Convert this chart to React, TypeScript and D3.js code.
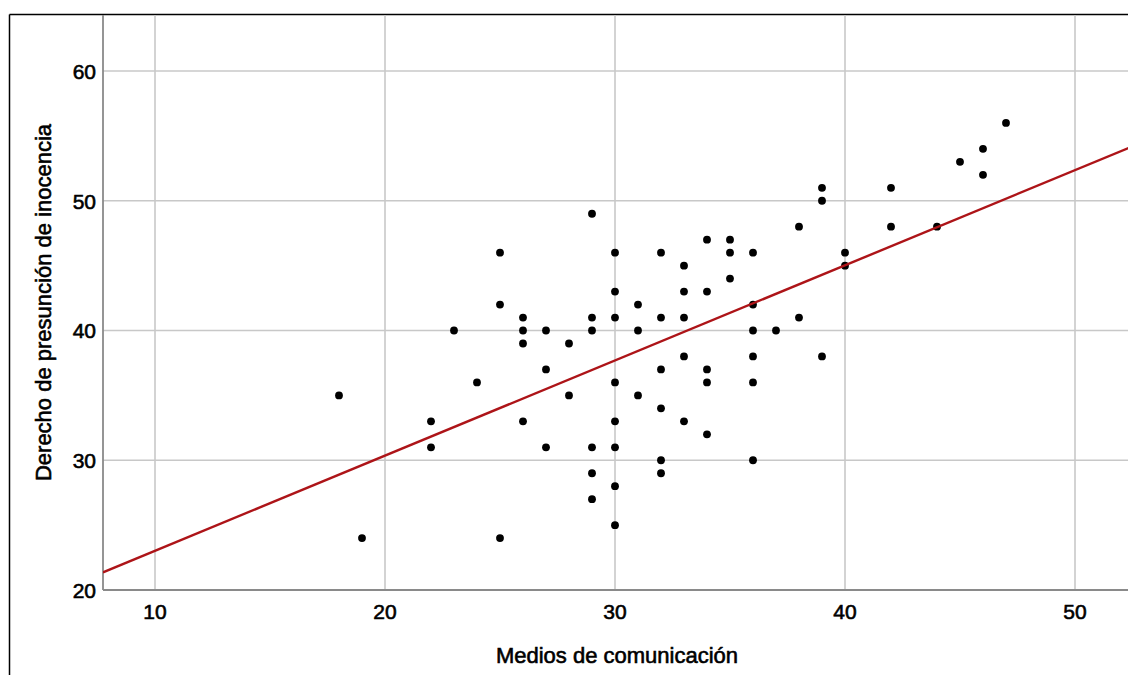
import React, { useEffect, useRef } from 'react';
import * as d3 from 'd3';

// Medios de comunicación (x) vs Derecho de presunción de inocencia (y)
const mediosValues = [
  18, 19, 22, 22, 23, 24, 25, 25, 25, 26, 26, 26, 26, 27, 27, 27, 28, 28,
  29, 29, 29, 29, 29, 29, 30, 30, 30, 30, 30, 30, 30, 30, 31, 31, 31,
  32, 32, 32, 32, 32, 32, 33, 33, 33, 33, 33, 34, 34, 34, 34, 34,
  35, 35, 35, 36, 36, 36, 36, 36, 36, 37, 38, 38, 39, 39, 39, 40, 40,
  42, 42, 44, 45, 46, 46, 47,
];
const presuncionValues = [
  35, 24, 33, 31, 40, 36, 46, 42, 24, 41, 40, 39, 33, 40, 37, 31, 39, 35,
  49, 41, 40, 31, 29, 27, 46, 43, 41, 36, 33, 31, 28, 25, 42, 40, 35,
  46, 41, 37, 34, 30, 29, 45, 43, 41, 38, 33, 47, 43, 37, 36, 32,
  47, 46, 44, 46, 42, 40, 38, 36, 30, 40, 48, 41, 51, 50, 38, 46, 45,
  51, 48, 48, 53, 54, 52, 56,
];

const xTicks = [10, 20, 30, 40, 50];
const yTicks = [20, 30, 40, 50, 60];

// linear fit line
const fitIntercept = 15.685;
const fitSlope = 0.7335;

const xTitle = 'Medios de comunicación';
const yTitle = 'Derecho de presunción de inocencia';

const W = 1128;
const H = 675;

const App: React.FC = () => {
  const svgRef = useRef<SVGSVGElement>(null);

  useEffect(() => {
    if (!svgRef.current) return;
    const svg = d3.select(svgRef.current);
    svg.selectAll('*').remove();

    const plot = { left: 103, right: W + 2, top: 15, bottom: 590 };
    const font = "'Liberation Sans', Arial, sans-serif";

    const x = d3.scaleLinear().domain([10, 50]).range([155, 1075]);
    const y = d3.scaleLinear().domain([20, 60]).range([590, 71]);

    // outer frame (top and left edges visible)
    svg.append('line')
      .attr('x1', 9.5).attr('x2', W + 5).attr('y1', 14.5).attr('y2', 14.5)
      .attr('stroke', '#000').attr('stroke-width', 1.5);
    svg.append('line')
      .attr('x1', 9.5).attr('x2', 9.5).attr('y1', 14.5).attr('y2', H + 5)
      .attr('stroke', '#000').attr('stroke-width', 1.5);

    svg.append('defs').append('clipPath').attr('id', 'plot-clip')
      .append('rect')
      .attr('x', plot.left).attr('y', plot.top)
      .attr('width', plot.right - plot.left).attr('height', plot.bottom - plot.top);

    // grid
    const grid = svg.append('g').attr('stroke', '#c8c8c8').attr('stroke-width', 1.6);
    grid.selectAll('line.v')
      .data(xTicks)
      .join('line')
        .attr('class', 'v')
        .attr('x1', d => x(d)).attr('x2', d => x(d))
        .attr('y1', plot.top).attr('y2', plot.bottom);
    grid.selectAll('line.h')
      .data(yTicks)
      .join('line')
        .attr('class', 'h')
        .attr('x1', plot.left).attr('x2', plot.right)
        .attr('y1', d => y(d)).attr('y2', d => y(d));

    // axes lines
    svg.append('line')
      .attr('x1', plot.left).attr('x2', plot.left)
      .attr('y1', plot.top).attr('y2', plot.bottom)
      .attr('stroke', '#8a8a8a').attr('stroke-width', 1.8);
    svg.append('line')
      .attr('x1', plot.left).attr('x2', plot.right)
      .attr('y1', plot.bottom).attr('y2', plot.bottom)
      .attr('stroke', '#8a8a8a').attr('stroke-width', 1.8);

    // points
    const points = mediosValues.map((m, i) => ({ m, p: presuncionValues[i] }));
    svg.append('g')
      .attr('clip-path', 'url(#plot-clip)')
      .selectAll('circle')
      .data(points)
      .join('circle')
        .attr('cx', d => x(d.m))
        .attr('cy', d => y(d.p))
        .attr('r', 3.9)
        .attr('fill', '#000');

    // fit line
    const xMin = x.invert(plot.left);
    const xMax = x.invert(plot.right);
    const fitLine = d3.line<number>()
      .x(d => x(d))
      .y(d => y(fitIntercept + fitSlope * d));
    svg.append('path')
      .attr('clip-path', 'url(#plot-clip)')
      .attr('d', fitLine([xMin, xMax]) || '')
      .attr('fill', 'none')
      .attr('stroke', '#ad1418')
      .attr('stroke-width', 2.4);

    // tick labels
    svg.append('g')
      .attr('font-family', font)
      .attr('font-size', 21)
      .attr('text-anchor', 'middle')
      .selectAll('text')
      .data(xTicks)
      .join('text')
        .attr('x', d => x(d))
        .attr('y', 619)
        .attr('fill', '#000')
        .attr('stroke', '#000')
        .attr('stroke-width', 0.6)
        .text(d => d);

    svg.append('g')
      .attr('font-family', font)
      .attr('font-size', 21)
      .attr('text-anchor', 'end')
      .selectAll('text')
      .data(yTicks)
      .join('text')
        .attr('x', 96)
        .attr('y', d => y(d))
        .attr('dy', '0.38em')
        .attr('fill', '#000')
        .attr('stroke', '#000')
        .attr('stroke-width', 0.6)
        .text(d => d);

    // axis titles
    svg.append('text')
      .attr('x', 617)
      .attr('y', 663)
      .attr('text-anchor', 'middle')
      .attr('font-family', font)
      .attr('font-size', 22)
      .attr('fill', '#000')
      .attr('stroke', '#000')
      .attr('stroke-width', 0.6)
      .text(xTitle);

    svg.append('text')
      .attr('transform', `translate(51,${(plot.top + plot.bottom) / 2}) rotate(-90)`)
      .attr('text-anchor', 'middle')
      .attr('font-family', font)
      .attr('font-size', 22)
      .attr('fill', '#000')
      .attr('stroke', '#000')
      .attr('stroke-width', 0.6)
      .text(yTitle);
  }, []);

  return (
    <svg
      ref={svgRef}
      width={W}
      height={H}
      style={{ position: 'fixed', left: 0, top: 0, display: 'block', background: '#fff' }}
    />
  );
};

export default App;
